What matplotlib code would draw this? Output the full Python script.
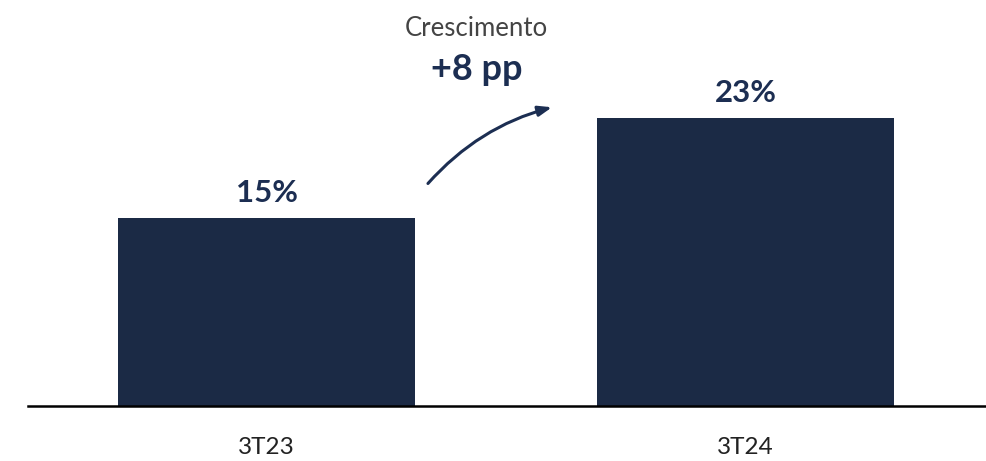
import matplotlib.pyplot as plt

# chart data
categories = ['3T23', '3T24']
values = [15, 23]
value_labels = ['15%', '23%']
growth_title = 'Crescimento'
growth_label = '+8 pp'

NAVY = '#1b2a45'
TEXT_NAVY = '#1c2e52'

plt.rcParams['font.family'] = ['Lato', 'DejaVu Sans']

fig = plt.figure(figsize=(9.87, 4.61), dpi=100)
ax = fig.add_axes([28 / 987, 1 - 406 / 461, (985 - 28) / 987, 406 / 461])

x = list(range(len(categories)))
ax.bar(x, values, width=0.62, color=NAVY)
ax.set_xlim(-0.498, 1.5)
ax.set_ylim(0, 406 / 12.5)

# value labels above the bars
for xi, v, lab in zip(x, values, value_labels):
    ax.text(xi, v + 0.9, lab, ha='center', va='bottom', fontsize=22.5,
            fontweight='bold', color=TEXT_NAVY)

# growth annotation with curved arrow
ax.annotate('', xy=(0.596, 23.9), xytext=(0.337, 17.8),
            arrowprops=dict(arrowstyle='-|>,head_length=0.8,head_width=0.3',
                            connectionstyle='arc3,rad=-0.15',
                            color=TEXT_NAVY, lw=2.2, shrinkA=0, shrinkB=0))
ax.text(0.438, 30.2, growth_title, ha='center', va='center', fontsize=18.5,
        color='#444444')
ax.text(0.438, 26.9, growth_label, ha='center', va='center', fontsize=26,
        fontweight='bold', color=TEXT_NAVY)

for side in ['top', 'right', 'left']:
    ax.spines[side].set_visible(False)
ax.spines['bottom'].set_linewidth(1.8)
ax.spines['bottom'].set_color('black')
ax.set_yticks([])
ax.set_xticks(x)
ax.set_xticklabels(categories, fontsize=17.5, color='#222222')
ax.tick_params(axis='x', length=0, pad=22)

fig.savefig('out.png', dpi=100)
